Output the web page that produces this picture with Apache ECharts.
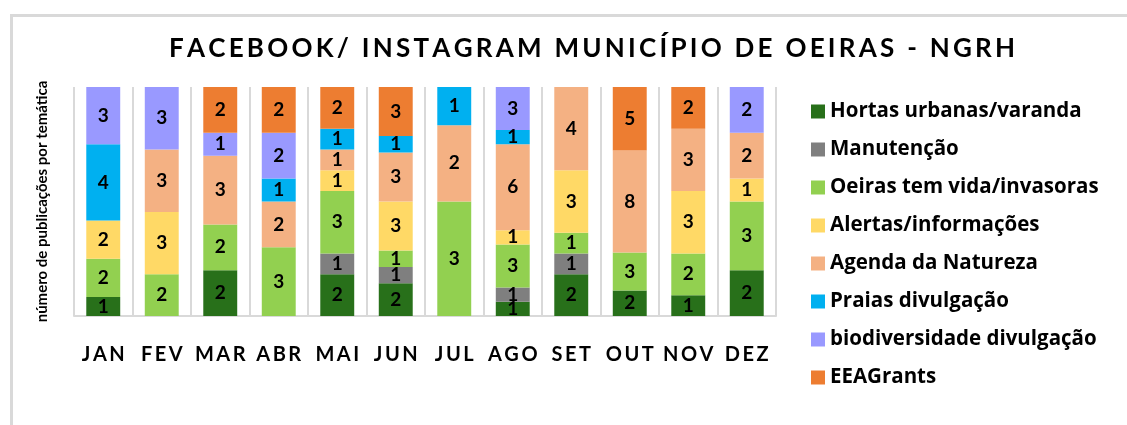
<!DOCTYPE html>
<html>
<head>
<meta charset="utf-8">
<script src="https://cdn.jsdelivr.net/npm/echarts@6/dist/echarts.min.js"></script>
<style>
  html, body { margin: 0; padding: 0; background: #fff; }
  #chart { width: 1127px; height: 425px; }
</style>
</head>
<body>
<div id="chart"></div>
<script>
const titleText = 'FACEBOOK/ INSTAGRAM MUNICÍPIO DE OEIRAS - NGRH'
const yName = 'número de publicações por temática'
const months = ['JAN', 'FEV', 'MAR', 'ABR', 'MAI', 'JUN', 'JUL', 'AGO', 'SET', 'OUT', 'NOV', 'DEZ']

const seriesNames = [
  'Hortas urbanas/varanda',
  'Manutenção',
  'Oeiras tem vida/invasoras',
  'Alertas/informações',
  'Agenda da Natureza',
  'Praias divulgação',
  'biodiversidade divulgação',
  'EEAGrants'
]
const seriesColors = ['#28701a', '#7f7f7f', '#92d050', '#ffd966', '#f4b183', '#00b0f0', '#9999ff', '#ed7d31']

// counts per month (JAN..DEZ)
const hortas = [1, 0, 2, 0, 2, 2, 0, 1, 2, 2, 1, 2]
const manutencao = [0, 0, 0, 0, 1, 1, 0, 1, 1, 0, 0, 0]
const oeiras = [2, 2, 2, 3, 3, 1, 3, 3, 1, 3, 2, 3]
const alertas = [2, 3, 0, 0, 1, 3, 0, 1, 3, 0, 3, 1]
const agenda = [0, 3, 3, 2, 1, 3, 2, 6, 4, 8, 3, 2]
const praias = [4, 0, 0, 1, 1, 1, 1, 1, 0, 0, 0, 0]
const biodiversidade = [3, 3, 1, 2, 0, 0, 0, 3, 0, 0, 0, 2]
const eeagrants = [0, 0, 2, 2, 2, 3, 0, 0, 0, 5, 2, 0]

const allCounts = [hortas, manutencao, oeiras, alertas, agenda, praias, biodiversidade, eeagrants]

const totals = months.map((m, i) => allCounts.reduce((s, arr) => s + arr[i], 0))

const spaced = (txt, sep) => txt.split('').join(sep)

const chart = echarts.init(document.getElementById('chart'))

const option = {
  backgroundColor: '#fff',
  animation: false,
  textStyle: { fontFamily: 'Lato' },
  graphic: [
    {
      type: 'rect',
      left: 9,
      top: 13,
      shape: { width: 1200, height: 500 },
      style: { fill: 'none', stroke: '#d9d9d9', lineWidth: 3 },
      silent: true
    }
  ],
  title: {
    text: spaced(titleText, '\u2009'),
    left: 587,
    textAlign: 'center',
    top: 31,
    textStyle: {
      fontFamily: 'Lato',
      fontWeight: 'bold',
      fontSize: 26,
      color: '#000'
    }
  },
  legend: {
    orient: 'vertical',
    left: 806,
    top: 96,
    itemWidth: 14,
    itemHeight: 14,
    itemGap: 17,
    icon: 'rect',
    data: seriesNames,
    textStyle: {
      fontFamily: 'Open Sans',
      fontWeight: 'bold',
      fontSize: 20.5,
      lineHeight: 21,
      color: '#000',
      padding: [0, 0, 0, 0]
    }
  },
  grid: {
    left: 74,
    right: 351,
    top: 87,
    bottom: 109
  },
  xAxis: {
    type: 'category',
    data: months,
    axisLine: { lineStyle: { color: '#d9d9d9', width: 2 } },
    axisTick: { show: false },
    splitLine: { show: true, interval: 0, lineStyle: { color: '#d9d9d9', width: 2 } },
    axisLabel: {
      interval: 0,
      margin: 29,
      color: '#000',
      fontFamily: 'Lato',
      fontWeight: 'bold',
      fontSize: 20,
      formatter: (v) => spaced(v, '\u2009')
    }
  },
  yAxis: {
    type: 'value',
    min: 0,
    max: 100,
    name: yName,
    nameLocation: 'middle',
    nameRotate: 90,
    nameGap: 24,
    nameTextStyle: {
      fontFamily: 'Lato',
      fontWeight: 'bold',
      fontSize: 15,
      color: '#000'
    },
    axisLine: { show: false },
    axisTick: { show: false },
    axisLabel: { show: false },
    splitLine: { show: false }
  },
  series: allCounts.map((arr, k) => ({
    name: seriesNames[k],
    type: 'bar',
    stack: 'total',
    barWidth: '58%',
    itemStyle: { color: seriesColors[k] },
    label: {
      show: true,
      position: 'inside',
      color: '#000',
      fontFamily: 'Lato',
      fontWeight: 'bold',
      fontSize: 19,
      formatter: (p) => (arr[p.dataIndex] > 0 ? String(arr[p.dataIndex]) : '')
    },
    data: arr.map((v, i) => (v / totals[i]) * 100)
  }))
}

chart.setOption(option)
</script>
</body>
</html>
